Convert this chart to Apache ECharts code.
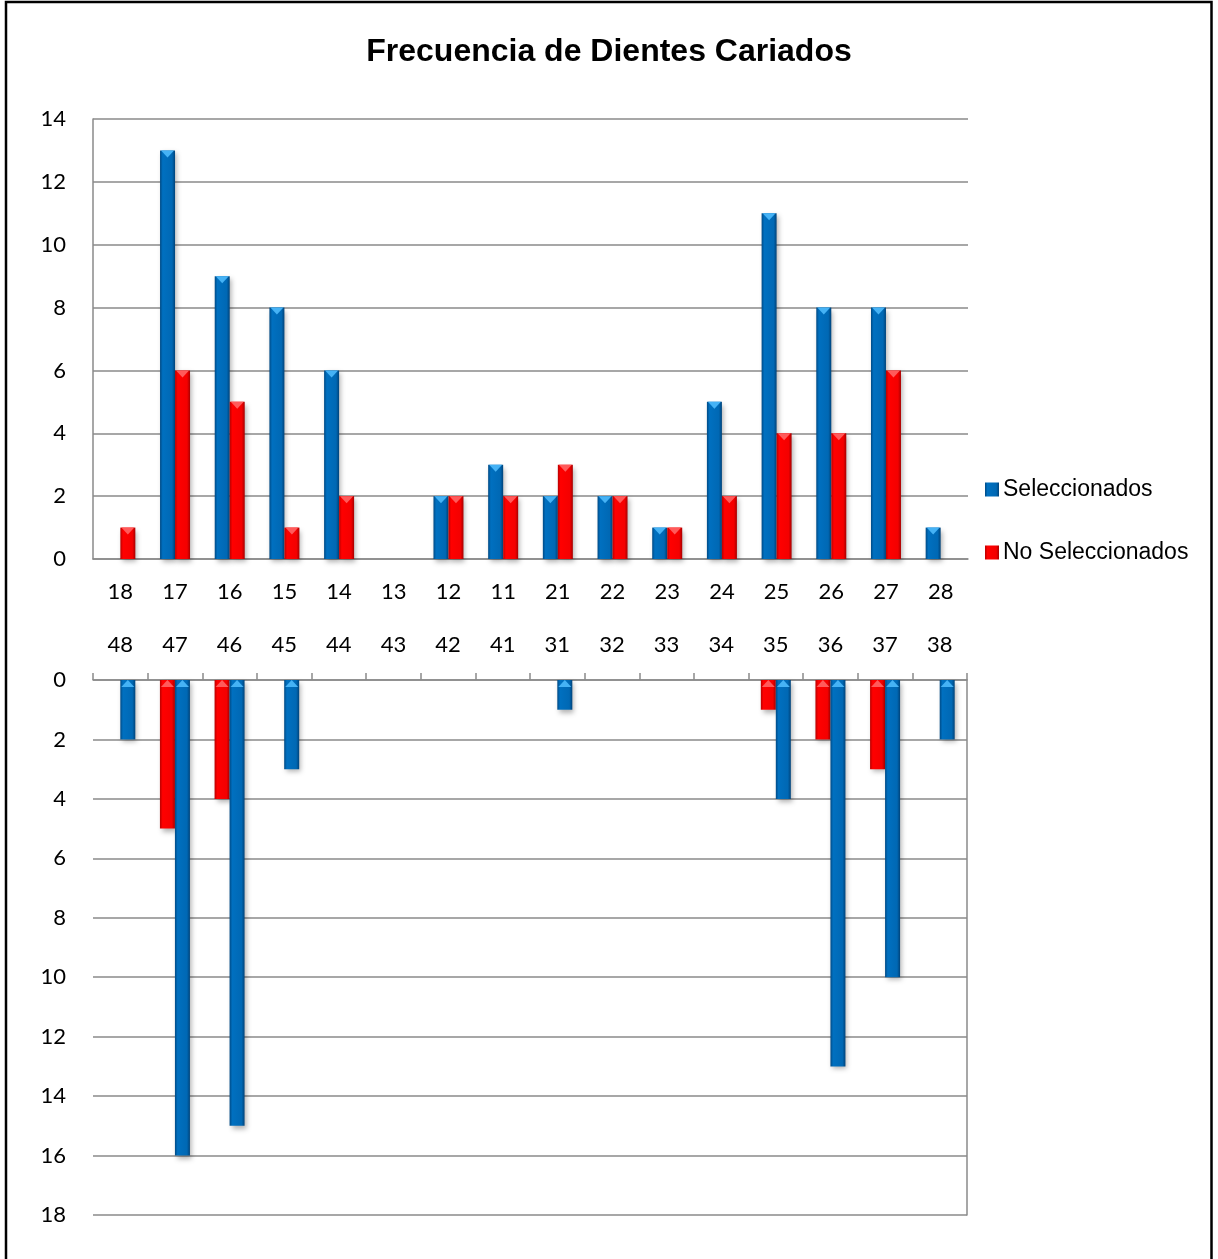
<!DOCTYPE html>
<html>
<head>
<meta charset="utf-8">
<script src="https://cdn.jsdelivr.net/npm/echarts@6/dist/echarts.min.js"></script>
<style>
  html, body { margin: 0; padding: 0; background: #fff; }
  #chart { width: 1218px; height: 1259px; }
</style>
</head>
<body>
<div id="chart"></div>
<script>
// Upper arch (teeth 18..28) and lower arch (teeth 48..38)
const upperTeeth = ['18','17','16','15','14','13','12','11','21','22','23','24','25','26','27','28'];
const lowerTeeth = ['48','47','46','45','44','43','42','41','31','32','33','34','35','36','37','38'];

const upperSelected    = [0, 13, 9, 8, 6, 0, 2, 3, 2, 2, 1, 5, 11, 8, 8, 1];
const upperNotSelected = [1, 6, 5, 1, 2, 0, 2, 2, 3, 2, 1, 2, 4, 4, 6, 0];
const lowerSelected    = [2, 16, 15, 3, 0, 0, 0, 0, 1, 0, 0, 0, 4, 13, 10, 2];
const lowerNotSelected = [0, 5, 4, 0, 0, 0, 0, 0, 0, 0, 0, 0, 1, 2, 3, 0];

const upperMax = 14;
const lowerMax = 18;
const tickStep = 2;

const seriesNames = ['Seleccionados', 'No Seleccionados'];

const BLUE = new echarts.graphic.LinearGradient(0, 0, 1, 0, [
  { offset: 0, color: '#004a85' },
  { offset: 0.18, color: '#0070c0' },
  { offset: 0.8, color: '#0068b4' },
  { offset: 1, color: '#00437a' }
]);
const RED = new echarts.graphic.LinearGradient(0, 0, 1, 0, [
  { offset: 0, color: '#b80000' },
  { offset: 0.18, color: '#ff0000' },
  { offset: 0.8, color: '#f40000' },
  { offset: 1, color: '#a80000' }
]);
const BLUE_TIP = '#45b2f5';
const RED_TIP = '#ff5a5a';

const gridColor = '#8a8a8a';
const labelFont = { fontFamily: 'Lato', fontSize: 22, color: '#000' };
const BAR_W = 15;

const shadow = {
  shadowBlur: 5,
  shadowOffsetX: 2,
  shadowOffsetY: 3,
  shadowColor: 'rgba(0,0,0,0.3)'
};

// zero counts get no bevel tip
const tips = arr => arr.map(v => (v > 0 ? v : '-'));

function barSeries(name, data, idx, color) {
  return {
    name: name,
    type: 'bar',
    xAxisIndex: idx,
    yAxisIndex: idx,
    data: data,
    barWidth: BAR_W,
    barGap: '0%',
    itemStyle: Object.assign({ color: color }, shadow),
    emphasis: { disabled: true },
    z: 2
  };
}

function tipSeries(data, idx, color, pos) {
  return {
    name: 'tip-' + idx + '-' + color,
    type: 'pictorialBar',
    xAxisIndex: idx,
    yAxisIndex: idx,
    data: tips(data),
    barWidth: BAR_W,
    barGap: '0%',
    symbol: 'triangle',
    symbolRotate: 180,
    symbolSize: [13, 7],
    symbolPosition: pos,
    itemStyle: { color: color },
    emphasis: { disabled: true },
    silent: true,
    z: 3
  };
}

const chart = echarts.init(document.getElementById('chart'), null, { renderer: 'canvas' });

chart.setOption({
  animation: false,
  backgroundColor: '#fff',
  title: {
    text: 'Frecuencia de Dientes Cariados',
    left: 'center',
    top: 31,
    textStyle: { fontFamily: 'Liberation Sans', fontWeight: 'bold', fontSize: 32, color: '#000' }
  },
  legend: {
    data: seriesNames,
    orient: 'vertical',
    left: 985,
    top: 478,
    padding: 0,
    itemWidth: 14,
    itemHeight: 14,
    itemGap: 40,
    icon: 'rect',
    textStyle: { fontFamily: 'Liberation Sans', fontSize: 23, color: '#000', padding: [0, 0, 0, -1] },
    selectedMode: false
  },
  graphic: [{
    type: 'rect',
    shape: { x: 6, y: 2, width: 1205.5, height: 1300 },
    style: { fill: 'none', stroke: '#000', lineWidth: 2.5 },
    silent: true,
    z: 100
  }],
  grid: [
    { left: 93, top: 119, width: 875, height: 440 },
    { left: 93, top: 680, width: 874, height: 535 }
  ],
  xAxis: [
    {
      type: 'category',
      gridIndex: 0,
      data: upperTeeth,
      position: 'bottom',
      axisLine: { show: true, lineStyle: { color: gridColor, width: 1.5 } },
      axisTick: { show: false },
      axisLabel: Object.assign({ margin: 22, interval: 0 }, labelFont)
    },
    {
      type: 'category',
      gridIndex: 1,
      data: lowerTeeth,
      position: 'top',
      axisLine: { show: true, lineStyle: { color: gridColor, width: 1.5 } },
      axisTick: { show: true, length: 7, lineStyle: { color: gridColor, width: 1.5 } },
      axisLabel: Object.assign({ margin: 24, interval: 0 }, labelFont)
    }
  ],
  yAxis: [
    {
      type: 'value',
      gridIndex: 0,
      min: 0,
      max: upperMax,
      interval: tickStep,
      axisLine: { show: true, lineStyle: { color: gridColor, width: 1.5 } },
      axisTick: { show: false },
      splitLine: { lineStyle: { color: gridColor, width: 1.5 } },
      axisLabel: Object.assign({ margin: 27 }, labelFont)
    },
    {
      type: 'value',
      gridIndex: 1,
      min: 0,
      max: lowerMax,
      interval: tickStep,
      inverse: true,
      axisLine: { show: false },
      axisTick: { show: false },
      splitLine: { lineStyle: { color: gridColor, width: 1.5 } },
      axisLabel: Object.assign({ margin: 27 }, labelFont)
    },
    {
      type: 'value',
      gridIndex: 1,
      position: 'right',
      min: 0,
      max: lowerMax,
      interval: tickStep,
      inverse: true,
      axisLine: { show: true, lineStyle: { color: gridColor, width: 1.5 } },
      axisTick: { show: false },
      splitLine: { show: false },
      axisLabel: { show: false }
    }
  ],
  series: [
    barSeries(seriesNames[0], upperSelected, 0, BLUE),
    barSeries(seriesNames[1], upperNotSelected, 0, RED),
    tipSeries(upperSelected, 0, BLUE_TIP, 'end'),
    tipSeries(upperNotSelected, 0, RED_TIP, 'end'),
    barSeries(seriesNames[1], lowerNotSelected, 1, RED),
    barSeries(seriesNames[0], lowerSelected, 1, BLUE),
    tipSeries(lowerNotSelected, 1, RED_TIP, 'start'),
    tipSeries(lowerSelected, 1, BLUE_TIP, 'start')
  ]
});
</script>
</body>
</html>
